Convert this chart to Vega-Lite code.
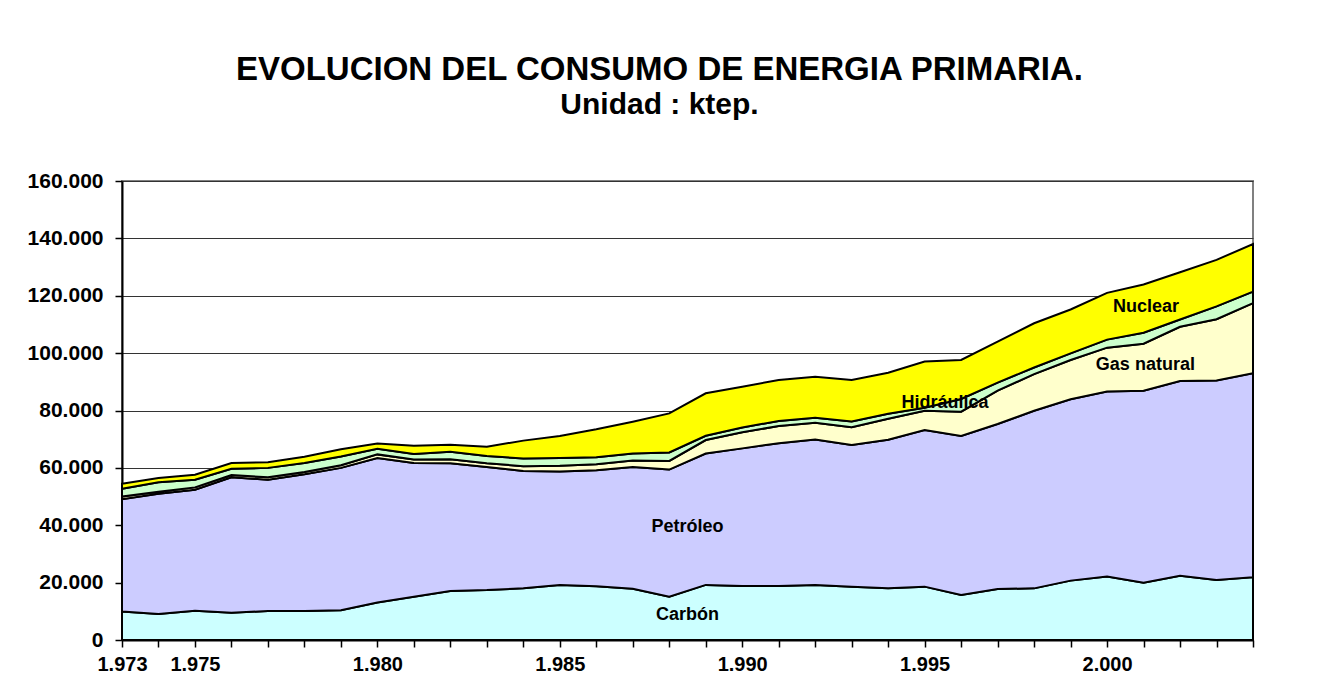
{
  "$schema": "https://vega.github.io/schema/vega-lite/v6.json",
  "width": 1131,
  "height": 459,
  "autosize": {"type": "none"},
  "padding": {"left": 122, "top": 181, "right": 64, "bottom": 53},
  "background": "white",
  "config": {
    "locale": {"number": {"decimal": ",", "thousands": ".", "grouping": [3], "currency": ["", " €"]}},
    "font": "Liberation Sans",
    "view": {"stroke": "#808080", "strokeWidth": 2},
    "axis": {"labelOverlap": false}
  },
  "title": {
    "text": "EVOLUCION DEL CONSUMO DE ENERGIA PRIMARIA.",
    "subtitle": "Unidad : ktep.",
    "font": "Liberation Sans",
    "subtitleFont": "Liberation Sans",
    "fontSize": 33,
    "subtitleFontSize": 30,
    "fontWeight": "bold",
    "subtitleFontWeight": "bold",
    "color": "black",
    "subtitleColor": "black",
    "anchor": "middle",
    "frame": "group",
    "dx": -28,
    "offset": 50,
    "subtitlePadding": 3
  },
  "encoding": {
    "x": {
      "field": "anio", "type": "quantitative",
      "scale": {"domain": [1973, 2004], "nice": false, "zero": false},
      "axis": {
        "title": null,
        "values": [1973,1974,1975,1976,1977,1978,1979,1980,1981,1982,1983,1984,1985,1986,1987,1988,1989,1990,1991,1992,1993,1994,1995,1996,1997,1998,1999,2000,2001,2002,2003,2004],
        "format": ",d",
        "labelExpr": "indexof([1973,1975,1980,1985,1990,1995,2000], datum.value) >= 0 ? datum.label : ''",
        "grid": false,
        "domainColor": "black", "domainWidth": 2,
        "tickColor": "black", "tickSize": 7, "tickWidth": 1.5,
        "labelFont": "Liberation Sans", "labelFontSize": 20, "labelFontWeight": "bold", "labelColor": "black",
        "labelPadding": 7, "labelOverlap": false, "labelFlush": false
      }
    }
  },
  "layer": [
    {
      "data": {"values": [
        {"anio":1973,"fuente":"Carbón","ktep":9900,"orden":1},{"anio":1973,"fuente":"Petróleo","ktep":39200,"orden":2},{"anio":1973,"fuente":"Gas natural","ktep":900,"orden":3},{"anio":1973,"fuente":"Hidráulica","ktep":2700,"orden":4},{"anio":1973,"fuente":"Nuclear","ktep":1800,"orden":5},
        {"anio":1974,"fuente":"Carbón","ktep":9100,"orden":1},{"anio":1974,"fuente":"Petróleo","ktep":41900,"orden":2},{"anio":1974,"fuente":"Gas natural","ktep":700,"orden":3},{"anio":1974,"fuente":"Hidráulica","ktep":3300,"orden":4},{"anio":1974,"fuente":"Nuclear","ktep":1500,"orden":5},
        {"anio":1975,"fuente":"Carbón","ktep":10200,"orden":1},{"anio":1975,"fuente":"Petróleo","ktep":42200,"orden":2},{"anio":1975,"fuente":"Gas natural","ktep":800,"orden":3},{"anio":1975,"fuente":"Hidráulica","ktep":2700,"orden":4},{"anio":1975,"fuente":"Nuclear","ktep":1700,"orden":5},
        {"anio":1976,"fuente":"Carbón","ktep":9500,"orden":1},{"anio":1976,"fuente":"Petróleo","ktep":47200,"orden":2},{"anio":1976,"fuente":"Gas natural","ktep":800,"orden":3},{"anio":1976,"fuente":"Hidráulica","ktep":2200,"orden":4},{"anio":1976,"fuente":"Nuclear","ktep":2000,"orden":5},
        {"anio":1977,"fuente":"Carbón","ktep":10100,"orden":1},{"anio":1977,"fuente":"Petróleo","ktep":45800,"orden":2},{"anio":1977,"fuente":"Gas natural","ktep":800,"orden":3},{"anio":1977,"fuente":"Hidráulica","ktep":3300,"orden":4},{"anio":1977,"fuente":"Nuclear","ktep":2000,"orden":5},
        {"anio":1978,"fuente":"Carbón","ktep":10100,"orden":1},{"anio":1978,"fuente":"Petróleo","ktep":47700,"orden":2},{"anio":1978,"fuente":"Gas natural","ktep":800,"orden":3},{"anio":1978,"fuente":"Hidráulica","ktep":3100,"orden":4},{"anio":1978,"fuente":"Nuclear","ktep":2200,"orden":5},
        {"anio":1979,"fuente":"Carbón","ktep":10400,"orden":1},{"anio":1979,"fuente":"Petróleo","ktep":49600,"orden":2},{"anio":1979,"fuente":"Gas natural","ktep":900,"orden":3},{"anio":1979,"fuente":"Hidráulica","ktep":3100,"orden":4},{"anio":1979,"fuente":"Nuclear","ktep":2500,"orden":5},
        {"anio":1980,"fuente":"Carbón","ktep":13100,"orden":1},{"anio":1980,"fuente":"Petróleo","ktep":50300,"orden":2},{"anio":1980,"fuente":"Gas natural","ktep":1300,"orden":3},{"anio":1980,"fuente":"Hidráulica","ktep":2000,"orden":4},{"anio":1980,"fuente":"Nuclear","ktep":1800,"orden":5},
        {"anio":1981,"fuente":"Carbón","ktep":15100,"orden":1},{"anio":1981,"fuente":"Petróleo","ktep":46600,"orden":2},{"anio":1981,"fuente":"Gas natural","ktep":1200,"orden":3},{"anio":1981,"fuente":"Hidráulica","ktep":1900,"orden":4},{"anio":1981,"fuente":"Nuclear","ktep":2900,"orden":5},
        {"anio":1982,"fuente":"Carbón","ktep":17100,"orden":1},{"anio":1982,"fuente":"Petróleo","ktep":44500,"orden":2},{"anio":1982,"fuente":"Gas natural","ktep":1400,"orden":3},{"anio":1982,"fuente":"Hidráulica","ktep":2600,"orden":4},{"anio":1982,"fuente":"Nuclear","ktep":2500,"orden":5},
        {"anio":1983,"fuente":"Carbón","ktep":17400,"orden":1},{"anio":1983,"fuente":"Petróleo","ktep":42900,"orden":2},{"anio":1983,"fuente":"Gas natural","ktep":1300,"orden":3},{"anio":1983,"fuente":"Hidráulica","ktep":2500,"orden":4},{"anio":1983,"fuente":"Nuclear","ktep":3300,"orden":5},
        {"anio":1984,"fuente":"Carbón","ktep":18000,"orden":1},{"anio":1984,"fuente":"Petróleo","ktep":40900,"orden":2},{"anio":1984,"fuente":"Gas natural","ktep":1700,"orden":3},{"anio":1984,"fuente":"Hidráulica","ktep":2700,"orden":4},{"anio":1984,"fuente":"Nuclear","ktep":6200,"orden":5},
        {"anio":1985,"fuente":"Carbón","ktep":19200,"orden":1},{"anio":1985,"fuente":"Petróleo","ktep":39500,"orden":2},{"anio":1985,"fuente":"Gas natural","ktep":2000,"orden":3},{"anio":1985,"fuente":"Hidráulica","ktep":2700,"orden":4},{"anio":1985,"fuente":"Nuclear","ktep":7700,"orden":5},
        {"anio":1986,"fuente":"Carbón","ktep":18700,"orden":1},{"anio":1986,"fuente":"Petróleo","ktep":40500,"orden":2},{"anio":1986,"fuente":"Gas natural","ktep":2100,"orden":3},{"anio":1986,"fuente":"Hidráulica","ktep":2400,"orden":4},{"anio":1986,"fuente":"Nuclear","ktep":9750,"orden":5},
        {"anio":1987,"fuente":"Carbón","ktep":17900,"orden":1},{"anio":1987,"fuente":"Petróleo","ktep":42400,"orden":2},{"anio":1987,"fuente":"Gas natural","ktep":2300,"orden":3},{"anio":1987,"fuente":"Hidráulica","ktep":2400,"orden":4},{"anio":1987,"fuente":"Nuclear","ktep":11100,"orden":5},
        {"anio":1988,"fuente":"Carbón","ktep":15100,"orden":1},{"anio":1988,"fuente":"Petróleo","ktep":44300,"orden":2},{"anio":1988,"fuente":"Gas natural","ktep":3000,"orden":3},{"anio":1988,"fuente":"Hidráulica","ktep":3000,"orden":4},{"anio":1988,"fuente":"Nuclear","ktep":13600,"orden":5},
        {"anio":1989,"fuente":"Carbón","ktep":19200,"orden":1},{"anio":1989,"fuente":"Petróleo","ktep":45800,"orden":2},{"anio":1989,"fuente":"Gas natural","ktep":4700,"orden":3},{"anio":1989,"fuente":"Hidráulica","ktep":1500,"orden":4},{"anio":1989,"fuente":"Nuclear","ktep":14800,"orden":5},
        {"anio":1990,"fuente":"Carbón","ktep":18800,"orden":1},{"anio":1990,"fuente":"Petróleo","ktep":48000,"orden":2},{"anio":1990,"fuente":"Gas natural","ktep":5600,"orden":3},{"anio":1990,"fuente":"Hidráulica","ktep":1700,"orden":4},{"anio":1990,"fuente":"Nuclear","ktep":14200,"orden":5},
        {"anio":1991,"fuente":"Carbón","ktep":18800,"orden":1},{"anio":1991,"fuente":"Petróleo","ktep":49800,"orden":2},{"anio":1991,"fuente":"Gas natural","ktep":6000,"orden":3},{"anio":1991,"fuente":"Hidráulica","ktep":1750,"orden":4},{"anio":1991,"fuente":"Nuclear","ktep":14290,"orden":5},
        {"anio":1992,"fuente":"Carbón","ktep":19200,"orden":1},{"anio":1992,"fuente":"Petróleo","ktep":50700,"orden":2},{"anio":1992,"fuente":"Gas natural","ktep":5800,"orden":3},{"anio":1992,"fuente":"Hidráulica","ktep":1750,"orden":4},{"anio":1992,"fuente":"Nuclear","ktep":14350,"orden":5},
        {"anio":1993,"fuente":"Carbón","ktep":18600,"orden":1},{"anio":1993,"fuente":"Petróleo","ktep":49400,"orden":2},{"anio":1993,"fuente":"Gas natural","ktep":6150,"orden":3},{"anio":1993,"fuente":"Hidráulica","ktep":2000,"orden":4},{"anio":1993,"fuente":"Nuclear","ktep":14490,"orden":5},
        {"anio":1994,"fuente":"Carbón","ktep":18000,"orden":1},{"anio":1994,"fuente":"Petróleo","ktep":51800,"orden":2},{"anio":1994,"fuente":"Gas natural","ktep":7300,"orden":3},{"anio":1994,"fuente":"Hidráulica","ktep":1750,"orden":4},{"anio":1994,"fuente":"Nuclear","ktep":14330,"orden":5},
        {"anio":1995,"fuente":"Carbón","ktep":18600,"orden":1},{"anio":1995,"fuente":"Petróleo","ktep":54600,"orden":2},{"anio":1995,"fuente":"Gas natural","ktep":6740,"orden":3},{"anio":1995,"fuente":"Hidráulica","ktep":1000,"orden":4},{"anio":1995,"fuente":"Nuclear","ktep":16160,"orden":5},
        {"anio":1996,"fuente":"Carbón","ktep":15700,"orden":1},{"anio":1996,"fuente":"Petróleo","ktep":55400,"orden":2},{"anio":1996,"fuente":"Gas natural","ktep":8500,"orden":3},{"anio":1996,"fuente":"Hidráulica","ktep":4400,"orden":4},{"anio":1996,"fuente":"Nuclear","ktep":13600,"orden":5},
        {"anio":1997,"fuente":"Carbón","ktep":17800,"orden":1},{"anio":1997,"fuente":"Petróleo","ktep":57500,"orden":2},{"anio":1997,"fuente":"Gas natural","ktep":11600,"orden":3},{"anio":1997,"fuente":"Hidráulica","ktep":2800,"orden":4},{"anio":1997,"fuente":"Nuclear","ktep":14300,"orden":5},
        {"anio":1998,"fuente":"Carbón","ktep":18000,"orden":1},{"anio":1998,"fuente":"Petróleo","ktep":61900,"orden":2},{"anio":1998,"fuente":"Gas natural","ktep":12800,"orden":3},{"anio":1998,"fuente":"Hidráulica","ktep":2300,"orden":4},{"anio":1998,"fuente":"Nuclear","ktep":15400,"orden":5},
        {"anio":1999,"fuente":"Carbón","ktep":20700,"orden":1},{"anio":1999,"fuente":"Petróleo","ktep":63200,"orden":2},{"anio":1999,"fuente":"Gas natural","ktep":13700,"orden":3},{"anio":1999,"fuente":"Hidráulica","ktep":2300,"orden":4},{"anio":1999,"fuente":"Nuclear","ktep":15300,"orden":5},
        {"anio":2000,"fuente":"Carbón","ktep":22100,"orden":1},{"anio":2000,"fuente":"Petróleo","ktep":64500,"orden":2},{"anio":2000,"fuente":"Gas natural","ktep":15300,"orden":3},{"anio":2000,"fuente":"Hidráulica","ktep":2800,"orden":4},{"anio":2000,"fuente":"Nuclear","ktep":16300,"orden":5},
        {"anio":2001,"fuente":"Carbón","ktep":20000,"orden":1},{"anio":2001,"fuente":"Petróleo","ktep":66900,"orden":2},{"anio":2001,"fuente":"Gas natural","ktep":16400,"orden":3},{"anio":2001,"fuente":"Hidráulica","ktep":3800,"orden":4},{"anio":2001,"fuente":"Nuclear","ktep":16800,"orden":5},
        {"anio":2002,"fuente":"Carbón","ktep":22400,"orden":1},{"anio":2002,"fuente":"Petróleo","ktep":67900,"orden":2},{"anio":2002,"fuente":"Gas natural","ktep":18900,"orden":3},{"anio":2002,"fuente":"Hidráulica","ktep":2500,"orden":4},{"anio":2002,"fuente":"Nuclear","ktep":16500,"orden":5},
        {"anio":2003,"fuente":"Carbón","ktep":20900,"orden":1},{"anio":2003,"fuente":"Petróleo","ktep":69600,"orden":2},{"anio":2003,"fuente":"Gas natural","ktep":21300,"orden":3},{"anio":2003,"fuente":"Hidráulica","ktep":4500,"orden":4},{"anio":2003,"fuente":"Nuclear","ktep":16200,"orden":5},
        {"anio":2004,"fuente":"Carbón","ktep":21900,"orden":1},{"anio":2004,"fuente":"Petróleo","ktep":71100,"orden":2},{"anio":2004,"fuente":"Gas natural","ktep":24400,"orden":3},{"anio":2004,"fuente":"Hidráulica","ktep":4050,"orden":4},{"anio":2004,"fuente":"Nuclear","ktep":16600,"orden":5}
      ]},
      "mark": {"type": "area", "stroke": "black", "strokeWidth": 2, "strokeJoin": "miter"},
      "encoding": {
        "y": {
          "field": "ktep", "type": "quantitative", "stack": "zero",
          "scale": {"domain": [0, 160000], "nice": false},
          "axis": {
            "title": null,
            "values": [0,20000,40000,60000,80000,100000,120000,140000,160000],
            "format": ",d",
            "grid": true, "gridColor": "#333333", "gridWidth": 1,
            "domainColor": "black", "domainWidth": 2,
            "tickColor": "black", "tickSize": 7, "tickWidth": 1.5,
            "labelFont": "Liberation Sans", "labelFontSize": 21, "labelFontWeight": "bold", "labelColor": "black",
            "labelPadding": 12
          }
        },
        "color": {
          "field": "fuente", "type": "nominal",
          "scale": {"domain": ["Carbón", "Petróleo", "Gas natural", "Hidráulica", "Nuclear"], "range": ["#CCFFFF", "#CCCCFF", "#FFFFCC", "#CCFFCC", "#FFFF00"]},
          "legend": null
        },
        "order": {"field": "orden", "type": "quantitative"}
      }
    },
    {
      "data": {"values": [
        {"anio": 1988.5, "ktep": 8700, "etiqueta": "Carbón"},
        {"anio": 1988.5, "ktep": 39500, "etiqueta": "Petróleo"},
        {"anio": 1995.56, "ktep": 82600, "etiqueta": "Hidráulica"},
        {"anio": 2001.05, "ktep": 96000, "etiqueta": "Gas natural"},
        {"anio": 2001.07, "ktep": 116200, "etiqueta": "Nuclear"}
      ]},
      "mark": {"type": "text", "font": "Liberation Sans", "fontSize": 18, "fontWeight": "bold", "color": "black", "baseline": "middle", "align": "center"},
      "encoding": {
        "y": {
          "field": "ktep", "type": "quantitative",
          "axis": {
            "title": null,
            "values": [0,20000,40000,60000,80000,100000,120000,140000,160000],
            "format": ",d",
            "grid": true, "gridColor": "#333333", "gridWidth": 1,
            "domainColor": "black", "domainWidth": 2,
            "tickColor": "black", "tickSize": 7, "tickWidth": 1.5,
            "labelFont": "Liberation Sans", "labelFontSize": 21, "labelFontWeight": "bold", "labelColor": "black",
            "labelPadding": 12
          }
        },
        "text": {"field": "etiqueta", "type": "nominal"}
      }
    }
  ]
}
